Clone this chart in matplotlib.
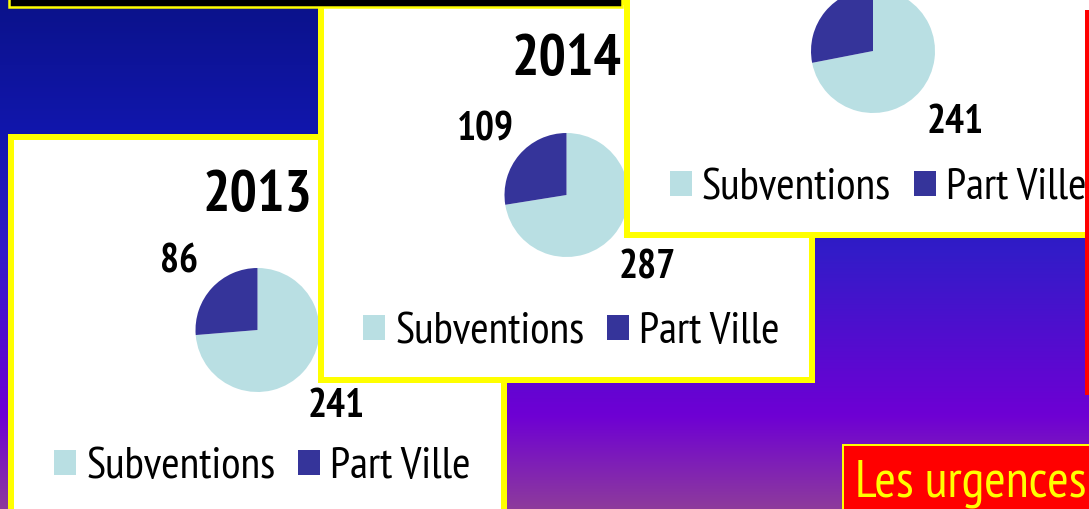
import numpy as np
import matplotlib
matplotlib.use('Agg')
import matplotlib.pyplot as plt
from matplotlib import font_manager as fm
from matplotlib.font_manager import FontProperties
from matplotlib.patches import Rectangle

W, H = 1089, 509
DPI = 100

years = ['2013', '2014', '2015']
categories = ['Subventions', 'Part Ville']
subventions = [241, 287, 241]
part_ville = [86, 109, 94]
colors = ['#b9dfe3', '#35349a']


def _w(f):
    w = f.weight
    if isinstance(w, str):
        w = fm.weight_dict.get(w, 400)
    return int(w)


def pick(cands, bold):
    for c in cands:
        faces = [f for f in fm.fontManager.ttflist if f.name == c and f.style == 'normal']
        if not faces:
            continue
        if bold and not any(_w(f) >= 600 for f in faces):
            continue
        return c
    return 'Liberation Sans'


CANDS = ['Liberation Sans Narrow', 'Arial Narrow', 'PT Sans Narrow', 'Roboto Condensed',
         'Archivo Narrow', 'Open Sans Condensed', 'Barlow Semi Condensed',
         'Barlow Condensed', 'Asap Condensed']
REG = pick(CANDS, False)
BOLD = pick(CANDS, True)


def pt(px):
    return px * 72 / DPI


fig = plt.figure(figsize=(W / DPI, H / DPI), dpi=DPI)
renderer = fig.canvas.get_renderer()


def fit_px(s, family, weight, target):
    """font size in px so that string s is target px wide"""
    prop = FontProperties(family=family, weight=weight, size=pt(100))
    wpx, _, _ = renderer.get_text_width_height_descent(s, prop, ismath=False)
    return 100 * target / wpx


title_px = fit_px('2013', BOLD, 'bold', 110)
label_px = fit_px('241', BOLD, 'bold', 57)
legend_px = fit_px('Subventions', REG, 'normal', 189)
urg_px = fit_px('Les urgences', REG, 'normal', 232)

# background gradient
bg = fig.add_axes([0, 0, 1, 1])
bg.set_xlim(0, W)
bg.set_ylim(H, 0)
bg.axis('off')
stops_y = [0, 130, 250, 415, 509]
stops_c = np.array([[11, 18, 138], [17, 22, 172], [50, 28, 200],
                    [110, 0, 212], [142, 60, 155]]) / 255
ys = np.arange(H)
grad = np.stack([np.interp(ys, stops_y, stops_c[:, k]) for k in range(3)], axis=1)
bg.imshow(grad[:, None, :], extent=[0, W, H, 0], aspect='auto',
          interpolation='bilinear')

# chart boxes (left, top, right, bottom) in pixels
frames = [(11, 137, 504, 515), (321, 2, 812, 380), (627, -142, 1119, 235)]

for i, (year, s, p, (L, T, R, B)) in enumerate(zip(years, subventions, part_ville, frames)):
    w, h = R - L, B - T
    ax = fig.add_axes([L / W, 1 - B / H, w / W, h / H])
    ax.set_zorder(i + 1)
    ax.set_facecolor('white')
    for sp in ax.spines.values():
        sp.set_color('#ffff00')
        sp.set_linewidth(pt(6))
    cx, cy, r = w / 2, h - 193, 62
    vals = [s, p]
    wedges, _ = ax.pie(vals, colors=colors, startangle=90, counterclock=False,
                       center=(cx, cy), radius=r, frame=True,
                       wedgeprops=dict(linewidth=0))
    ax.set_aspect('auto')
    ax.set_xlim(0, w)
    ax.set_ylim(0, h)
    ax.set_xticks([])
    ax.set_yticks([])
    for wd, v in zip(wedges, vals):
        th = np.deg2rad((wd.theta1 + wd.theta2) / 2)
        d = 1.72 * r
        ax.text(cx + d * np.cos(th), cy + d * np.sin(th) - 14.5, str(v),
                ha='center', va='baseline', fontsize=pt(label_px), weight='bold',
                family=BOLD, color='black')
    ax.text(cx, h - 73.5, year, ha='center', va='baseline', fontsize=pt(title_px),
            weight='bold', family=BOLD, color='black')
    ax.legend(wedges, categories, loc='center',
              bbox_to_anchor=((cx + 5) / w, (h - 330) / h), ncol=2, frameon=False,
              prop={'family': REG, 'size': pt(legend_px)},
              handlelength=22 / legend_px, handleheight=22 / legend_px,
              handletextpad=10 / legend_px, columnspacing=23 / legend_px,
              borderaxespad=0, borderpad=0)

# overlay elements
ov = fig.add_axes([0, 0, 1, 1])
ov.set_zorder(10)
ov.set_xlim(0, W)
ov.set_ylim(H, 0)
ov.axis('off')
ov.patch.set_alpha(0)
ov.add_patch(Rectangle((9, -10), 613, 17, fc='black', ec='#ffff00', lw=pt(2.5)))
ov.add_patch(Rectangle((1085, 10), 6, 385, fc='#ff0000', ec='none'))
ov.add_patch(Rectangle((843, 445), 300, 80, fc='#ff0000', ec='#ffff00', lw=pt(2)))
ov.text(855, 497, 'Les urgences', color='#ffff00', fontsize=pt(urg_px), family=REG,
        va='baseline', ha='left')

fig.savefig('out.png', dpi=DPI)
